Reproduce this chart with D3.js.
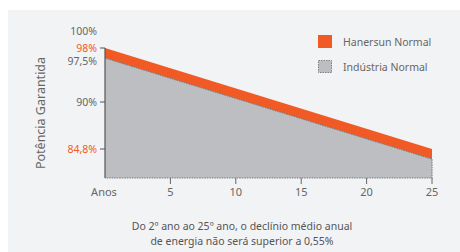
<!DOCTYPE html>
<html><head><meta charset="utf-8">
<script src="https://cdn.jsdelivr.net/npm/d3@7"></script>
<style>html,body{margin:0;padding:0;background:#fff;}svg{display:block;}</style>
</head><body>
<svg id="c" width="460" height="252"></svg>
<script>
const years = [0, 25];
const hanersun = [98, 84.8];
const industry = [97.5, 80.7];
const xTicks = [5, 10, 15, 20, 25];
const yTickLabels = [
  {v: 100, t: "100%", mark: false, hi: false},
  {v: 98, t: "98%", mark: true, hi: true},
  {v: 97.5, t: "97,5%", mark: false, hi: false},
  {v: 90, t: "90%", mark: true, hi: false},
  {v: 84.8, t: "84,8%", mark: true, hi: true}
];
const legendItems = ["Hanersun Normal", "Indústria Normal"];
const caption = ["Do 2º ano ao 25º ano, o declínio médio anual", "de energia não será superior a 0,55%"];
const yTitle = "Potência Garantida";
const xStartLabel = "Anos";

const svg = d3.select("#c");
const font = "'Noto Sans', 'Open Sans', sans-serif";
const orange = "#f15a24", grey = "#bdbec2", txt = "#666";

svg.append("rect").attr("x", 8).attr("y", 10).attr("width", 452).attr("height", 242).attr("fill", "#f2f3f5");

const x = d3.scaleLinear().domain([0, 25]).range([105, 432]);
const y = d3.scaleLinear().domain([100, 98, 97.5, 90, 84.8, 80.7, 78]).range([31, 48, 58, 102, 149, 159, 178]);
const base = 78;

const data = years.map((d, i) => ({x: d, h: hanersun[i], n: industry[i]}));

// orange area
svg.append("path").datum(data)
  .attr("d", d3.area().x(d => x(d.x)).y0(y(base)).y1(d => y(d.h)))
  .attr("fill", orange);
// grey area
svg.append("path").datum(data)
  .attr("d", d3.area().x(d => x(d.x)).y0(y(base)).y1(d => y(d.n)))
  .attr("fill", grey);
// dotted border of grey area (top, right, bottom)
const borderPts = [[x(0), y(industry[0])], [x(25), y(industry[1])], [x(25), y(base)], [x(0), y(base)]];
svg.append("path").attr("d", d3.line()(borderPts))
  .attr("fill", "none").attr("stroke", "#7d7e82").attr("stroke-width", 1.2).attr("stroke-dasharray", "1.5,1");

// y axis line
svg.append("line").attr("x1", x(0)).attr("x2", x(0)).attr("y1", y(98)).attr("y2", y(base))
  .attr("stroke", "#555").attr("stroke-width", 1.2);

// y labels
yTickLabels.forEach(d => {
  const yy = d.v === 97.5 ? y(d.v) + 3 : y(d.v);
  svg.append("text").attr("x", 97).attr("y", yy).attr("dy", "0.35em")
    .attr("text-anchor", "end").attr("font-family", font).attr("font-size", 10.5)
    .attr("fill", d.hi ? orange : txt).text(d.t);
  if (d.mark) svg.append("line").attr("x1", x(0) - 5).attr("x2", x(0)).attr("y1", y(d.v)).attr("y2", y(d.v))
    .attr("stroke", "#555").attr("stroke-width", 1);
});

// x ticks
xTicks.forEach(t => {
  svg.append("line").attr("x1", x(t)).attr("x2", x(t)).attr("y1", y(base)).attr("y2", y(base) + 6)
    .attr("stroke", "#666").attr("stroke-width", 1);
  svg.append("text").attr("x", x(t)).attr("y", 196).attr("text-anchor", "middle")
    .attr("font-family", font).attr("font-size", 11).attr("fill", txt).text(t);
});
svg.append("text").attr("x", x(0) - 1).attr("y", 196).attr("text-anchor", "middle")
  .attr("font-family", font).attr("font-size", 11).attr("fill", txt).text(xStartLabel);

// y title
svg.append("text").attr("transform", "translate(45,113) rotate(-90)").attr("text-anchor", "middle")
  .attr("font-family", font).attr("font-size", 12.5).attr("fill", txt).text(yTitle);

// legend
const lg = svg.append("g");
legendItems.forEach((t, i) => {
  const yy = 35 + i * 25;
  if (i === 0) lg.append("rect").attr("x", 318).attr("y", yy).attr("width", 14).attr("height", 13).attr("fill", orange);
  else lg.append("rect").attr("x", 318.5).attr("y", yy + 0.5).attr("width", 13).attr("height", 12).attr("fill", grey)
    .attr("stroke", "#7d7e82").attr("stroke-dasharray", "1.5,1");
  lg.append("text").attr("x", 343).attr("y", yy + 7).attr("dy", "0.35em")
    .attr("font-family", font).attr("font-size", 10.5).attr("fill", txt).text(t);
});

// caption
caption.forEach((t, i) => {
  svg.append("text").attr("x", 242).attr("y", 226 + i * 15).attr("dy", "0.35em").attr("text-anchor", "middle")
    .attr("font-family", font).attr("font-size", 10.5).attr("fill", "#555").text(t);
});
</script>
</body></html>
